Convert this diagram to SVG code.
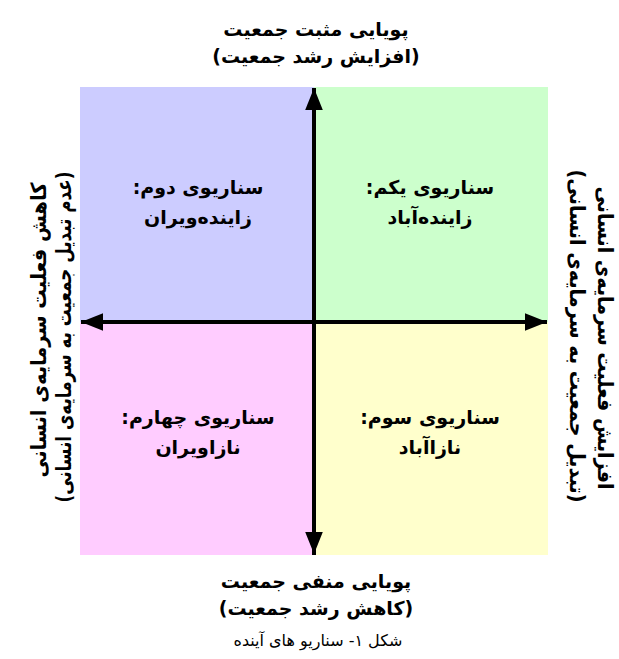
<svg xmlns="http://www.w3.org/2000/svg" width="619" height="659" viewBox="0 0 619 659">
<style>
text{font-family:"DejaVu Sans","Noto Sans",sans-serif;fill:#000;text-anchor:middle;direction:rtl;}
.b{font-weight:bold;font-size:19px;}
.v{font-weight:bold;font-size:21px;}
.c{font-size:16px;}
</style>
<defs>
<marker id="ah" viewBox="0 0 10 10" refX="10" refY="5" markerWidth="5.5" markerHeight="5.5" orient="auto" markerUnits="strokeWidth">
<path d="M0,1 L10,5 L0,9 Z" fill="#000"/>
</marker>
</defs>
<rect width="619" height="659" fill="#fff"/>
<g id="q2"><rect x="80" y="87" width="234" height="235" fill="#CCCCFF"/>
<text class="b" x="198" y="194">سناریوی دوم:</text>
<text class="b" x="198" y="224">زاینده‌ویران</text></g>
<g id="q1"><rect x="314" y="87" width="234" height="235" fill="#CCFFCC"/>
<text class="b" x="430" y="194">سناریوی یکم:</text>
<text class="b" x="430" y="224">زاینده‌آباد</text></g>
<g id="q4"><rect x="80" y="322" width="234" height="233" fill="#FFCCFF"/>
<text class="b" x="198" y="424">سناریوی چهارم:</text>
<text class="b" x="198" y="454">نازاویران</text></g>
<g id="q3"><rect x="314" y="322" width="234" height="233" fill="#FFFFCC"/>
<text class="b" x="430" y="424">سناریوی سوم:</text>
<text class="b" x="430" y="454">نازاآباد</text></g>
<g id="connectors" stroke="#000" stroke-width="4" fill="none">
<line x1="314" y1="555" x2="314" y2="88" marker-end="url(#ah)"/>
<line x1="314" y1="322" x2="314" y2="554" marker-end="url(#ah)"/>
<line x1="314" y1="322" x2="81" y2="322" marker-end="url(#ah)"/>
<line x1="314" y1="322" x2="547" y2="322" marker-end="url(#ah)"/>
</g>
<g id="top"><text class="b" x="316" y="36">پویایی مثبت جمعیت</text>
<text class="b" x="316" y="63">(افزایش رشد جمعیت)</text></g>
<g id="bottom"><text class="b" x="316" y="588">پویایی منفی جمعیت</text>
<text class="b" x="316" y="615">(کاهش رشد جمعیت)</text></g>
<g id="caption"><text class="c" x="318" y="646">شکل ۱- سناریو های آینده</text></g>
<g id="left"><text class="v" transform="translate(46,330) rotate(-90)" textLength="295" lengthAdjust="spacingAndGlyphs">کاهش فعلیت سرمایه‌ی انسانی</text>
<text class="v" transform="translate(71,337) rotate(-90)" textLength="331" lengthAdjust="spacingAndGlyphs">(عدم تبدیل جمعیت به سرمایه‌ی انسانی)</text></g>
<g id="right"><text class="v" transform="translate(598,338) rotate(90)" textLength="303" lengthAdjust="spacingAndGlyphs">افزایش فعلیت سرمایه‌ی انسانی</text>
<text class="v" transform="translate(570,336) rotate(90)" textLength="333" lengthAdjust="spacingAndGlyphs">(تبدیل جمعیت به سرمایه‌ی انسانی)</text></g>
</svg>
